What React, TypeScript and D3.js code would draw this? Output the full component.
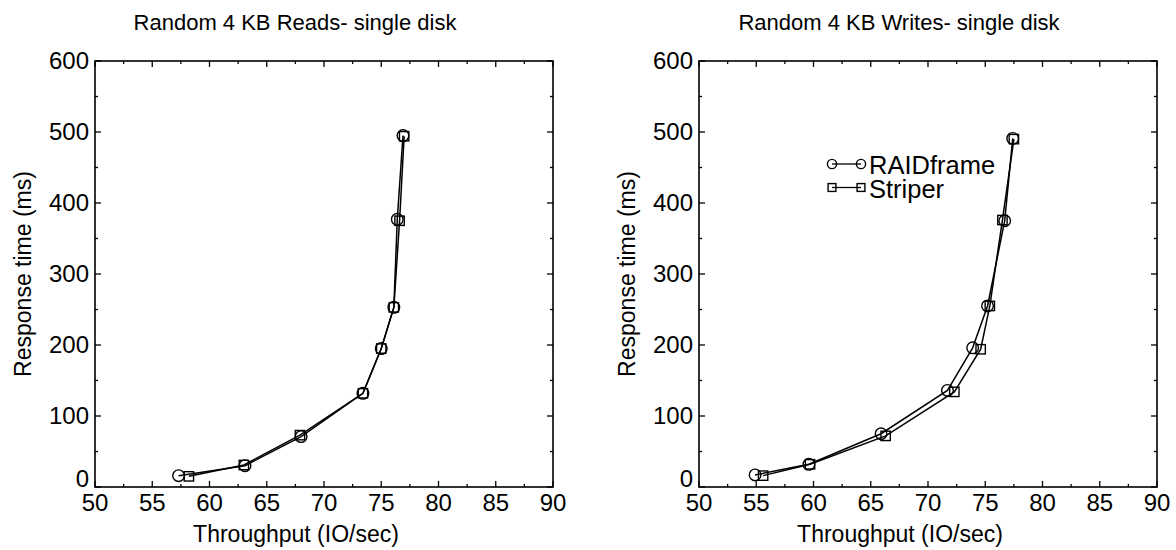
import React from "react";
import * as d3 from "d3";

// Random 4 KB reads, single disk
const readsRaidX = [57.3, 63.1, 68.0, 73.4, 75.0, 76.1, 76.4, 76.9];
const readsRaidY = [16, 30, 71, 132, 195, 253, 377, 495];
const readsStripX = [58.2, 63.0, 67.9, 73.4, 75.0, 76.1, 76.6, 77.0];
const readsStripY = [15, 31, 73, 132, 195, 253, 375, 494];

// Random 4 KB writes, single disk
const writesRaidX = [54.9, 59.6, 65.9, 71.7, 73.9, 75.2, 76.7, 77.4];
const writesRaidY = [17, 32, 75, 136, 196, 255, 375, 491];
const writesStripX = [55.6, 59.7, 66.3, 72.3, 74.6, 75.4, 76.5, 77.5];
const writesStripY = [16, 32, 72, 134, 194, 255, 376, 490];

const xTicks = [50, 55, 60, 65, 70, 75, 80, 85, 90];
const yTicks = [0, 100, 200, 300, 400, 500, 600];
const seriesNames = ["RAIDframe", "Striper"];

const FONT = "'Liberation Sans', Arial, Helvetica, sans-serif";

const zip = (xs, ys) => xs.map((x, i) => ({ x, y: ys[i] }));

const Marker = ({ kind, cx, cy, size }) =>
  kind === "circle" ? (
    <circle cx={cx} cy={cy} r={size} fill="none" stroke="black" strokeWidth={1.4} />
  ) : (
    <rect x={cx - size * 0.85} y={cy - size * 0.85} width={size * 1.7} height={size * 1.7}
      fill="none" stroke="black" strokeWidth={1.4} />
  );

const Panel = ({ left, title, raid, strip, legend }) => {
  const top = 61, bottom = 487, width = 458;
  const x = d3.scaleLinear().domain([50, 90]).range([left, left + width]);
  const y = d3.scaleLinear().domain([0, 600]).range([bottom, top]);
  const line = d3.line().x(d => x(d.x)).y(d => y(d.y));
  const xMinor = d3.range(52.5, 90, 5);
  const yMinor = d3.range(50, 600, 100);
  const cx = left + width / 2;

  return (
    <g fontFamily={FONT}>
      <text x={cx - 29} y={30} textAnchor="middle" fontSize={22}>{title}</text>
      {/* ticks, inward on all sides */}
      {xTicks.map(t => (
        <g key={"xt" + t}>
          <line x1={x(t)} x2={x(t)} y1={bottom} y2={bottom - 6} stroke="black" strokeWidth={1.3} />
          <line x1={x(t)} x2={x(t)} y1={top} y2={top + 6} stroke="black" strokeWidth={1.3} />
          <text x={x(t)} y={511} textAnchor="middle" fontSize={24}>{t}</text>
        </g>
      ))}
      {xMinor.map(t => (
        <g key={"xm" + t}>
          <line x1={x(t)} x2={x(t)} y1={bottom} y2={bottom - 3} stroke="black" strokeWidth={1.3} />
          <line x1={x(t)} x2={x(t)} y1={top} y2={top + 3} stroke="black" strokeWidth={1.3} />
        </g>
      ))}
      {yTicks.map(t => (
        <g key={"yt" + t}>
          <line x1={left} x2={left + 6} y1={y(t)} y2={y(t)} stroke="black" strokeWidth={1.3} />
          <line x1={left + width} x2={left + width - 6} y1={y(t)} y2={y(t)} stroke="black" strokeWidth={1.3} />
          <text x={left - 6} y={y(t) + (t === 0 ? 0 : 8)} textAnchor="end" fontSize={24}>{t}</text>
        </g>
      ))}
      {yMinor.map(t => (
        <g key={"ym" + t}>
          <line x1={left} x2={left + 3} y1={y(t)} y2={y(t)} stroke="black" strokeWidth={1.3} />
          <line x1={left + width} x2={left + width - 3} y1={y(t)} y2={y(t)} stroke="black" strokeWidth={1.3} />
        </g>
      ))}
      <rect x={left} y={top} width={width} height={bottom - top} fill="none" stroke="black" strokeWidth={1.6} />
      <text x={cx - 28} y={542} textAnchor="middle" fontSize={23}>Throughput (IO/sec)</text>
      <text transform={`translate(${left - 64},${(top + bottom) / 2}) rotate(-90)`}
        textAnchor="middle" fontSize={23}>Response time (ms)</text>

      <path d={line(raid)} fill="none" stroke="black" strokeWidth={1.5} />
      <path d={line(strip)} fill="none" stroke="black" strokeWidth={1.5} />
      {raid.map((d, i) => <Marker key={"c" + i} kind="circle" cx={x(d.x)} cy={y(d.y)} size={5.8} />)}
      {strip.map((d, i) => <Marker key={"s" + i} kind="square" cx={x(d.x)} cy={y(d.y)} size={5.5} />)}

      {legend && seriesNames.map((name, i) => {
        const ly = 164 + i * 23.5;
        const kind = i === 0 ? "circle" : "square";
        return (
          <g key={name}>
            <line x1={832} x2={861} y1={ly} y2={ly} stroke="black" strokeWidth={1.3} />
            <Marker kind={kind} cx={832} cy={ly} size={4.6} />
            <Marker kind={kind} cx={861} cy={ly} size={4.6} />
            <text x={869} y={ly + 10} fontSize={25.5}>{name}</text>
          </g>
        );
      })}
    </g>
  );
};

export default function App() {
  return (
    <svg width={1176} height={550} style={{ position: "absolute", left: 0, top: 0, background: "white" }}>
      <Panel left={95} title="Random 4 KB Reads- single disk"
        raid={zip(readsRaidX, readsRaidY)} strip={zip(readsStripX, readsStripY)} legend={false} />
      <Panel left={699} title="Random 4 KB Writes- single disk"
        raid={zip(writesRaidX, writesRaidY)} strip={zip(writesStripX, writesStripY)} legend={true} />
    </svg>
  );
}
